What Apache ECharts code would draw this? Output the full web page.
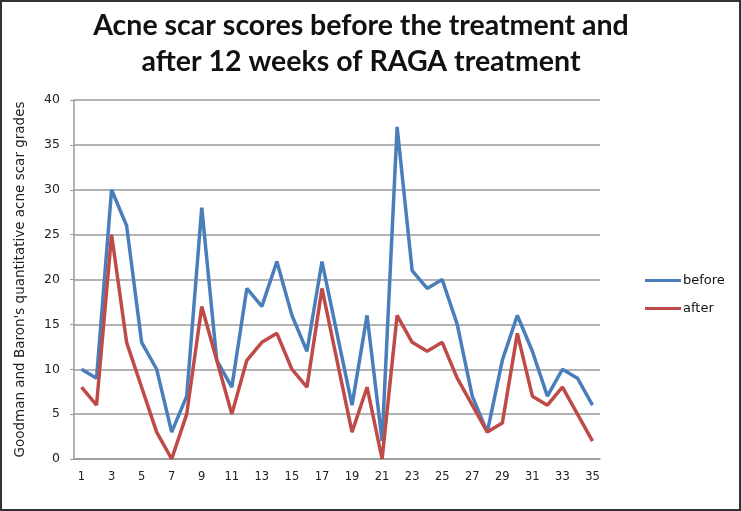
<!DOCTYPE html>
<html>
<head>
<meta charset="utf-8">
<script src="https://cdn.jsdelivr.net/npm/echarts@6/dist/echarts.min.js"></script>
<style>
html,body{margin:0;padding:0;background:#fff;}
#c{width:741px;height:511px;box-sizing:border-box;border:2px solid #333;}
</style>
</head>
<body>
<div id="c"></div>
<script>
var categories = ['1','2','3','4','5','6','7','8','9','10','11','12','13','14','15','16','17','18','19','20','21','22','23','24','25','26','27','28','29','30','31','32','33','34','35'];
var beforeValues = [10,9,30,26,13,10,3,7,28,11,8,19,17,22,16,12,22,14,6,16,2,37,21,19,20,15,7,3,11,16,12,7,10,9,6];
var afterValues = [8,6,25,13,8,3,0,5,17,11,5,11,13,14,10,8,19,11,3,8,0,16,13,12,13,9,6,3,4,14,7,6,8,5,2];
var titleLines = ['Acne scar scores before the treatment and', 'after 12 weeks of RAGA treatment'];
var yTicks = { min: 0, max: 40, interval: 5 };
var yName = "Goodman and Baron's quantitative acne scar grades";

var chart = echarts.init(document.getElementById('c'));
chart.setOption({
  animation: false,
  backgroundColor: '#fff',
  title: {
    text: titleLines.join('\n'),
    left: 359,
    textAlign: 'center',
    top: 6,
    padding: 0,
    textStyle: { fontFamily: 'Lato', fontWeight: 'bold', fontSize: 28.5, lineHeight: 36, color: '#111' }
  },
  legend: {
    orient: 'vertical',
    left: 638,
    top: 267,
    itemWidth: 36,
    itemHeight: 3,
    itemGap: 15,
    icon: 'rect',
    textStyle: { fontFamily: 'DejaVu Sans', fontSize: 13, color: '#111', padding: [0, 0, 0, -3] },
    data: ['before', 'after']
  },
  grid: { left: 72, right: 139, top: 98, bottom: 50, containLabel: false },
  xAxis: {
    type: 'category',
    data: categories,
    boundaryGap: true,
    axisLine: { lineStyle: { color: '#9a9a9a', width: 1.5 } },
    axisTick: { show: false },
    axisLabel: { interval: 1, color: '#222', fontFamily: 'DejaVu Sans', fontSize: 11.5, margin: 12 }
  },
  yAxis: {
    type: 'value',
    min: yTicks.min, max: yTicks.max, interval: yTicks.interval,
    name: yName,
    nameLocation: 'middle',
    nameGap: 47,
    nameTextStyle: { fontFamily: 'DejaVu Sans', fontSize: 13.5, color: '#222' },
    axisLine: { show: true, lineStyle: { color: '#9a9a9a', width: 1.5 } },
    axisTick: { show: true, length: 4, lineStyle: { color: '#9a9a9a' } },
    axisLabel: { color: '#222', fontFamily: 'DejaVu Sans', fontSize: 12.5, margin: 14 },
    splitLine: { lineStyle: { color: '#9a9a9a', width: 1.5 } }
  },
  series: [
    { name: 'before', type: 'line', data: beforeValues, symbol: 'none', lineStyle: { color: '#4a7ebb', width: 3.5 }, itemStyle: { color: '#4a7ebb' } },
    { name: 'after', type: 'line', data: afterValues, symbol: 'none', lineStyle: { color: '#be4b48', width: 3.5 }, itemStyle: { color: '#be4b48' } }
  ]
});
</script>
</body>
</html>
